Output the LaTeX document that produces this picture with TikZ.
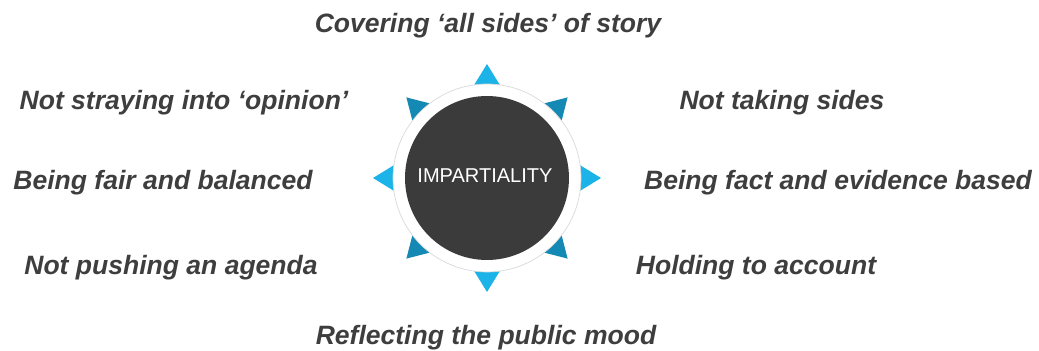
\documentclass[tikz,border=0pt]{standalone}
\usepackage{fontspec}
\setsansfont{Liberation Sans}
\definecolor{tiplight}{HTML}{1CB4E8}
\definecolor{tipdark}{HTML}{1489B4}
\definecolor{disk}{HTML}{3B3B3B}
\definecolor{labeltext}{HTML}{3E3E3E}

\begin{document}
\begin{tikzpicture}[
    x=0.02cm, y=-0.02cm,
    ring/.style={draw=black!15, line width=0.4pt, fill=white, circle, minimum size=3.76cm, inner sep=0pt},
    hub/.style={fill=disk, circle, minimum size=3.28cm, inner sep=0pt},
    aspect/.style={anchor=base, text=labeltext, font=\sffamily\bfseries\itshape\fontsize{15.1}{18}\selectfont}
]
\useasboundingbox (0,0) rectangle (1039,351);

\coordinate (centre) at (487,178);

\foreach \a in {0,90,180,270}
    \fill[tiplight, shift={(centre)}, rotate=\a] (114,0) -- (92,13.5) -- (92,-13.5) -- cycle;
\foreach \a in {45,135,225,315}
    \fill[tipdark, shift={(centre)}, rotate=\a] (114,0) -- (92,13) -- (92,-13) -- cycle;

\node[ring] (ring) at (centre) {};
\node[hub] (imp) at (centre) {};
\node[anchor=base, text=white, font=\sffamily\fontsize{11.4}{13}\selectfont] (implabel) at (485,183) {IMPARTIALITY};

\node[aspect] (covering) at (488,33) {Covering ‘all sides’ of story};
\node[aspect] (opinion) at (184,110) {Not straying into ‘opinion’};
\node[aspect] (sides) at (782,110) {Not taking sides};
\node[aspect] (fair) at (163,190) {Being fair and balanced};
\node[aspect] (fact) at (838,190) {Being fact and evidence based};
\node[aspect] (agenda) at (171,275) {Not pushing an agenda};
\node[aspect] (account) at (756,275) {Holding to account};
\node[aspect] (mood) at (486,345) {Reflecting the public mood};

\end{tikzpicture}
\end{document}
